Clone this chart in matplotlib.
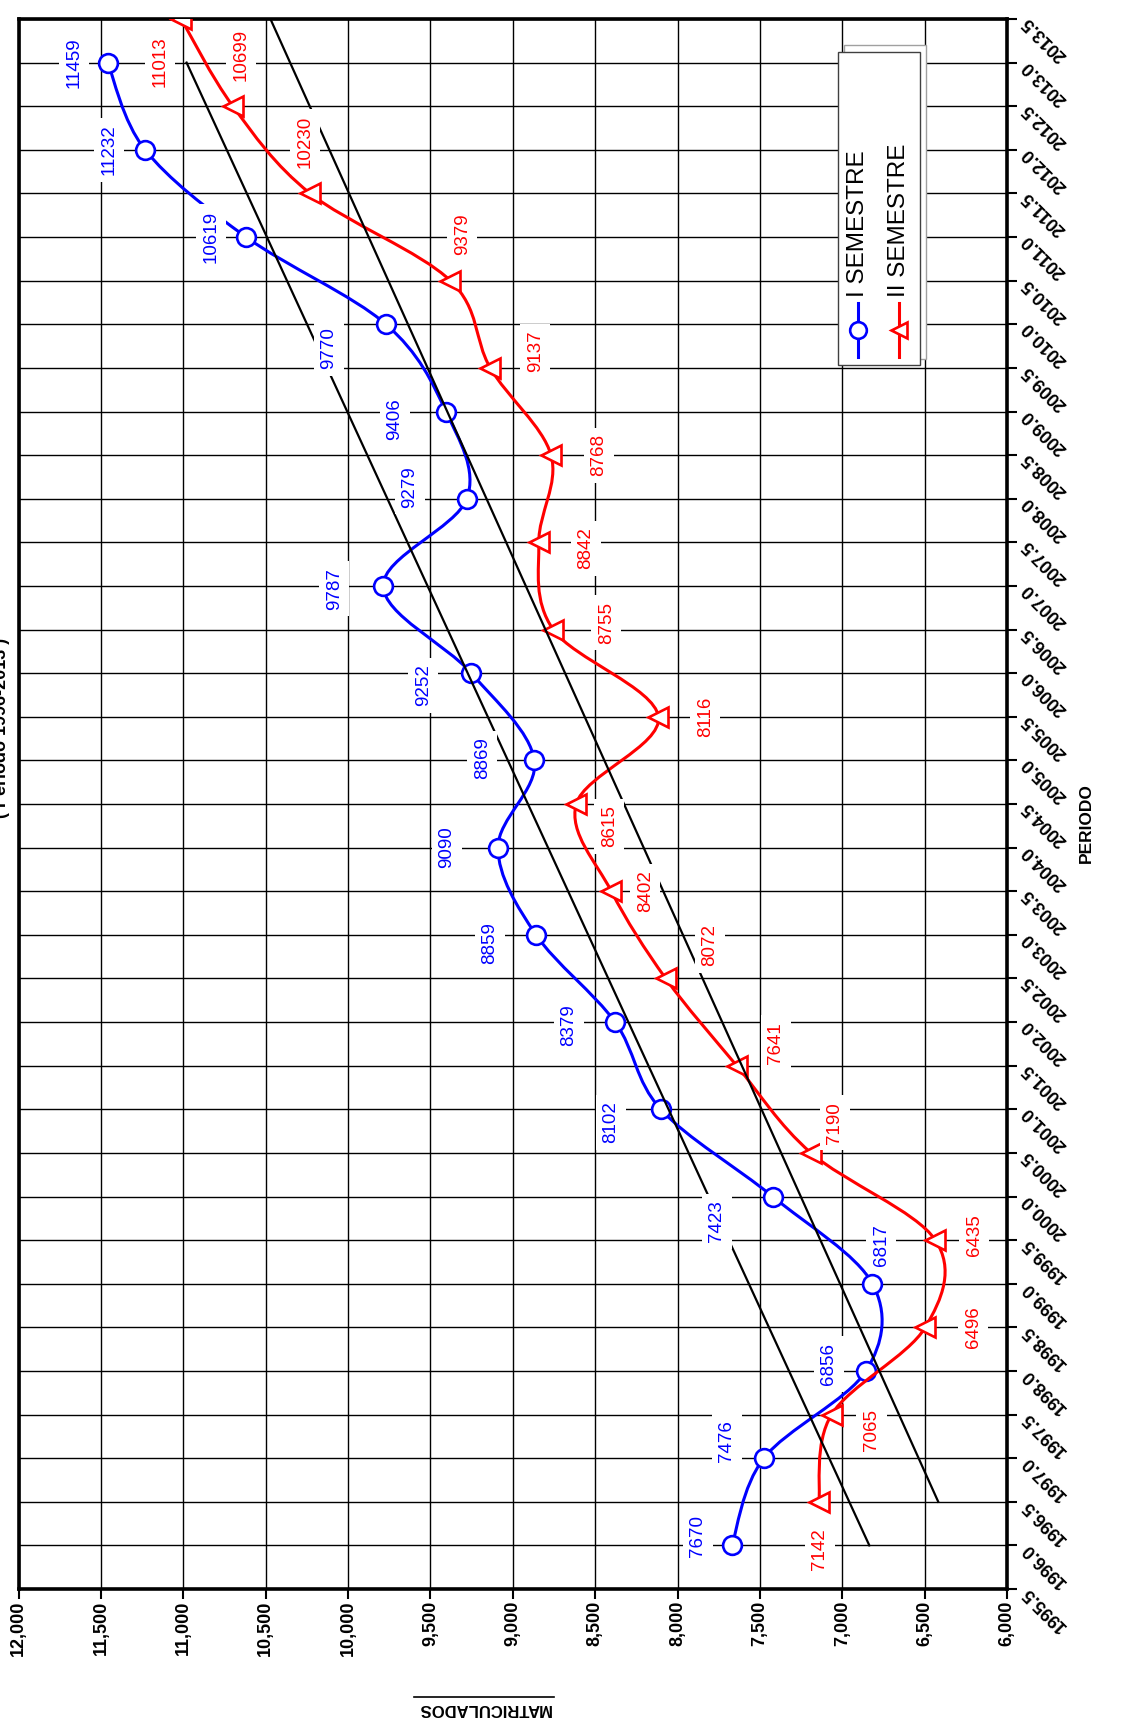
import numpy as np
import matplotlib
matplotlib.use('Agg')
import matplotlib.pyplot as plt
from matplotlib.path import Path
from matplotlib.patches import PathPatch, Rectangle
from matplotlib.lines import Line2D

plt.rcParams['font.family'] = ['Liberation Sans', 'DejaVu Sans']

# data
years_i = [1996.0, 1997.0, 1998.0, 1999.0, 2000.0, 2001.0, 2002.0, 2003.0, 2004.0,
           2005.0, 2006.0, 2007.0, 2008.0, 2009.0, 2010.0, 2011.0, 2012.0, 2013.0]
matric_i = [7670, 7476, 6856, 6817, 7423, 8102, 8379, 8859, 9090,
            8869, 9252, 9787, 9279, 9406, 9770, 10619, 11232, 11459]

years_ii = [1996.5, 1997.5, 1998.5, 1999.5, 2000.5, 2001.5, 2002.5, 2003.5, 2004.5,
            2005.5, 2006.5, 2007.5, 2008.5, 2009.5, 2010.5, 2011.5, 2012.5, 2013.5]
matric_ii = [7142, 7065, 6496, 6435, 7190, 7641, 8072, 8402, 8615,
             8116, 8755, 8842, 8768, 9137, 9379, 10230, 10699, 11013]

# label offsets in pixels (right, down) from the marker
off_i = [(-34, -9), (-37, -17), (-37, -7), (9, -39), (-56, 25), (-50, 13), (-46, 3), (-46, 8), (-51, 0),
         (-52, -2), (-48, 12), (-49, 3), (-57, -12), (-51, 8), (-57, 24), (-35, 0), (-36, 0), (-34, 0)]
off_ii = [(1, 47), (40, 15), (48, 0), (39, -5), (24, -30), (39, -23), (44, -33), (34, 0), (33, 22),
          (47, 0), (53, -7), (47, 6), (48, 0), (45, -17), (12, -46), (-5, -52), (8, -51), (-21, 43)]

W, H = 1125, 1720
BLUE = '#0000ff'
RED = '#ff0000'
NARROW = ['Liberation Sans Narrow', 'Liberation Sans', 'DejaVu Sans']


def fx(px):
    return px / W


def fy(py):
    return 1 - py / H


def smooth_path(xs, ys):
    pts = np.column_stack([xs, ys]).astype(float)
    n = len(pts)
    verts = [pts[0]]
    codes = [Path.MOVETO]
    for i in range(n - 1):
        p0 = pts[i - 1] if i > 0 else pts[i]
        p1 = pts[i]
        p2 = pts[i + 1]
        p3 = pts[i + 2] if i + 2 < n else pts[i + 1]
        verts += [p1 + (p2 - p0) / 6, p2 - (p3 - p1) / 6, p2]
        codes += [Path.CURVE4] * 3
    return Path(verts, codes)


fig = plt.figure(figsize=(W / 100, H / 100), dpi=100)
left, right, top, bottom = 18.6, 1007, 19, 1589
ax = fig.add_axes([fx(left), fy(bottom), fx(right) - fx(left), fy(top) - fy(bottom)])

ax.set_xlim(12000, 6000)
ax.set_ylim(1995.5, 2013.5)

xt = np.arange(6000, 12001, 500)
yt = np.arange(1995.5, 2013.51, 0.5)
ax.set_xticks(xt)
ax.set_xticklabels(['{:,}'.format(v) for v in xt])
ax.set_yticks(yt)
ax.set_yticklabels(['%.1f' % v for v in yt])
ax.yaxis.tick_right()
ax.grid(True, color='black', lw=1.0, zorder=0)
ax.set_axisbelow(True)
for s in ax.spines.values():
    s.set_linewidth(2.6)

ax.tick_params(axis='x', direction='out', length=7, width=1.5, pad=1.5, labelsize=13)
ax.tick_params(axis='y', direction='out', length=7, width=1.5, pad=6, labelsize=13,
               right=True, left=False)
for lbl in ax.get_xticklabels():
    lbl.set_rotation(90)
    lbl.set_rotation_mode('anchor')
    lbl.set_ha('right')
    lbl.set_va('center')
    lbl.set_fontweight('bold')
for lbl in ax.get_yticklabels():
    lbl.set_rotation(135)
    lbl.set_rotation_mode('anchor')
    lbl.set_ha('right')
    lbl.set_va('center')
    lbl.set_fontweight('bold')

# smoothed series
ax.add_patch(PathPatch(smooth_path(matric_i, years_i), fill=False, ec=BLUE, lw=2.2, zorder=3))
ax.plot(matric_i, years_i, ls='none', marker='o', ms=13.5, mfc='white', mec=BLUE, mew=1.9, zorder=3.5)
ax.add_patch(PathPatch(smooth_path(matric_ii, years_ii), fill=False, ec=RED, lw=2.2, zorder=4))
ax.plot(matric_ii, years_ii, ls='none', marker='<', ms=14, mfc='white', mec=RED, mew=1.9, zorder=4.5)

# linear trendlines
for yrs, vals in [(years_i, matric_i), (years_ii, matric_ii)]:
    p = np.polyfit(yrs, vals, 1)
    ends = np.array([yrs[0], yrs[-1]])
    ax.plot(np.polyval(p, ends), ends, color='black', lw=1.6, zorder=5)

# data labels
for vals, yrs, offs, col in [(matric_i, years_i, off_i, BLUE), (matric_ii, years_ii, off_ii, RED)]:
    for v, yr, (dx, dy) in zip(vals, yrs, offs):
        ax.annotate(str(v), xy=(v, yr), xytext=(dx, -dy), textcoords='offset pixels',
                    rotation=90, ha='center', va='center', color=col, fontsize=13.5,
                    family=NARROW, zorder=6, annotation_clip=False,
                    bbox=dict(boxstyle='square,pad=0.35', fc='white', ec='none'))

# legend (drawn rotated by hand)
fig.patches.append(Rectangle((fx(844), fy(359)), fx(926) - fx(844), fy(45) - fy(359),
                             transform=fig.transFigure, fc='white', ec='#a0a0a0', lw=1.0, zorder=7))
fig.patches.append(Rectangle((fx(838), fy(365)), fx(920) - fx(838), fy(52) - fy(365),
                             transform=fig.transFigure, fc='white', ec='#404040', lw=1.0, zorder=8))
for xpx, col, mk in [(858, BLUE, 'o'), (899, RED, '<')]:
    fig.lines.append(Line2D([fx(xpx), fx(xpx)], [fy(357), fy(303)], transform=fig.transFigure,
                            color=col, lw=2.2, zorder=9))
    fig.lines.append(Line2D([fx(xpx)], [fy(330)], transform=fig.transFigure, ls='none',
                            marker=mk, ms=12, mfc='white', mec=col, mew=1.9, zorder=10))
fig.text(fx(858), fy(297), 'I SEMESTRE', rotation=90, rotation_mode='anchor', ha='left',
         va='center', fontsize=17.5, zorder=10)
fig.text(fx(899), fy(297), 'II SEMESTRE', rotation=90, rotation_mode='anchor', ha='left',
         va='center', fontsize=17.5, zorder=10)

# axis titles
fig.text(fx(484), fy(1708), 'MATRICULADOS', rotation=180, ha='center', va='center',
         fontsize=12, fontweight='bold')
fig.lines.append(Line2D([fx(414), fx(554)], [fy(1697), fy(1697)], transform=fig.transFigure,
                        color='black', lw=1.2))
fig.text(fx(1086), fy(823), 'PERIODO', rotation=90, ha='center', va='center',
         fontsize=12.5, fontweight='bold')

# chart title, mostly cut off by the left edge
fig.text(fx(2), fy(728), '( Periodo 1996-2013 )', rotation=90, ha='center', va='center',
         fontsize=13, fontweight='bold')

fig.savefig('out.png', dpi=100)
